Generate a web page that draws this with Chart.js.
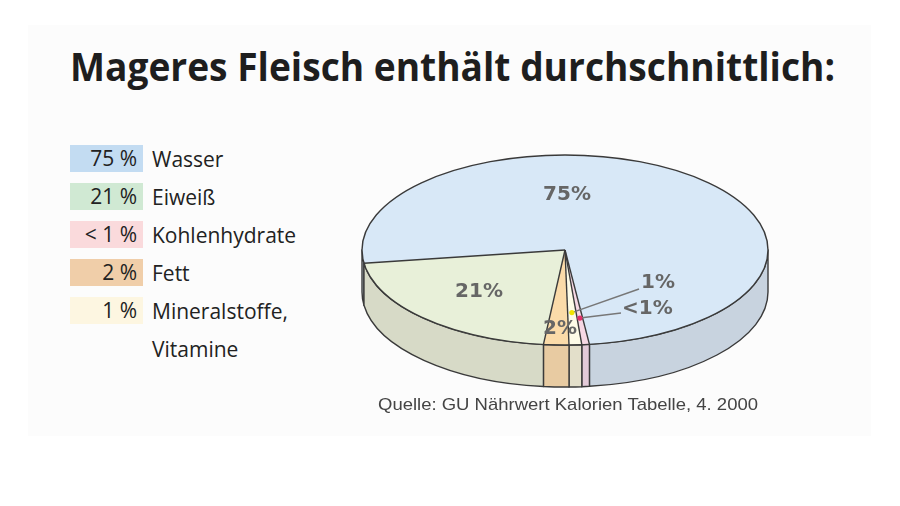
<!DOCTYPE html>
<html><head><meta charset="utf-8">
<script src="https://cdn.jsdelivr.net/npm/chart.js@4.4.1/dist/chart.umd.min.js"></script>
<style>
html,body{margin:0;padding:0;background:#fff;width:900px;height:506px;overflow:hidden;}
#wrap{position:relative;width:900px;height:506px;}
#panel{position:absolute;left:28px;top:25px;width:843px;height:411px;background:#fcfcfc;}
#title{position:absolute;left:70px;top:38px;font:700 40px "Open Sans",sans-serif;color:#1e1e1e;white-space:nowrap;transform-origin:0 0;}
.box{position:absolute;left:70px;width:73px;height:27px;box-sizing:border-box;padding-right:6px;text-align:right;font:21px "Open Sans",sans-serif;line-height:27px;color:#222;white-space:nowrap}
.lab{position:absolute;left:152px;font:21px "Open Sans",sans-serif;line-height:38px;color:#222;white-space:pre}
#src{position:absolute;left:378px;top:395px;font:17px "Liberation Sans",sans-serif;color:#444;white-space:nowrap;transform-origin:0 0;}
canvas{position:absolute;left:0;top:0}
</style></head><body>
<div id="wrap">
<div id="panel"></div>
<div id="title">Mageres Fleisch enthält durchschnittlich:</div>
<div id="legend"></div>
<canvas id="c" width="900" height="506"></canvas>
<div id="src">Quelle: GU Nährwert Kalorien Tabelle, 4. 2000</div>
</div>
<script>
// ---- data ----
const categories = ["Wasser", "Eiweiß", "Kohlenhydrate", "Fett", "Mineralstoffe,\nVitamine"];
const values = [75, 21, 0.6, 2, 1];
const valueLabels = ["75 %", "21 %", "< 1 %", "2 %", "1 %"];
const pieLabels = ["75%", "21%", "<1%", "2%", "1%"];
const pieOrder = [0, 2, 4, 3, 1]; // clockwise order in the pie

// ---- styles ----
const legendColors = ["#c3dcf2", "#d0e9d3", "#fadadc", "#f0cea9", "#fdf6e1"];
const topColors = ["#d8e8f7", "#e8f0d9", "#f7d8e4", "#fbdba9", "#fdfbe7"];
const sideColors = ["#c8d3df", "#d7dac7", "#e3cad8", "#e8cba2", "#e3dfca"];
const K = 0.468, DEPTH = 42;
const labelPos = { 0: [567, 195], 1: [479, 292], 3: [560, 329] };
const callouts = {
  4: { f: 0.66, dot: "#f0e400", text: [641, 283], end: [639, 289] },
  2: { f: 0.72, dot: "#e0306a", text: [622, 309], end: [621, 313] }
};

function fitWidth(el, w) {
  const cur = el.getBoundingClientRect().width;
  el.style.transform = 'scaleX(' + (w / cur) + ')';
}
fitWidth(document.getElementById('title'), 765);
fitWidth(document.getElementById('src'), 380);

// ---- legend ----
const leg = document.getElementById('legend');
categories.forEach((c, i) => {
  const top = 145 + 38 * i;
  const b = document.createElement('div');
  b.className = 'box'; b.style.top = top + 'px'; b.style.background = legendColors[i];
  b.textContent = valueLabels[i]; leg.appendChild(b);
  const l = document.createElement('div');
  l.className = 'lab'; l.style.top = (top - 5.5) + 'px'; l.textContent = c; leg.appendChild(l);
});

function frontPieces(s, e) {
  const out = [];
  for (let k = -2; k <= 3; k++) {
    const a = Math.max(s, 2 * Math.PI * k), b = Math.min(e, 2 * Math.PI * k + Math.PI);
    if (b > a + 1e-6) out.push([a, b]);
  }
  return out;
}

const pie3d = {
  id: 'pie3d',
  beforeDatasetsDraw(chart) {
    const ctx = chart.ctx, arcs = chart.getDatasetMeta(0).data;
    const cx = arcs[0].x, cy = arcs[0].y, r = arcs[0].outerRadius;
    ctx.save();
    ctx.lineWidth = 1.4; ctx.strokeStyle = '#3a3a3a'; ctx.lineJoin = 'round';
    arcs.forEach((a, j) => {
      const idx = pieOrder[j];
      frontPieces(a.startAngle, a.endAngle).forEach(([s, e]) => {
        ctx.beginPath();
        ctx.ellipse(cx, cy, r, r * K, 0, s, e, false);
        ctx.ellipse(cx, cy + DEPTH, r, r * K, 0, e, s, true);
        ctx.closePath();
        ctx.fillStyle = sideColors[idx];
        ctx.fill(); ctx.stroke();
      });
    });
    ctx.restore();
    ctx.save();
    ctx.translate(cx, cy); ctx.scale(1, K); ctx.translate(-cx, -cy);
  },
  afterDatasetsDraw(chart) {
    const ctx = chart.ctx;
    ctx.restore();
    const arcs = chart.getDatasetMeta(0).data;
    const cx = arcs[0].x, cy = arcs[0].y, r = arcs[0].outerRadius;
    ctx.save();
    ctx.lineWidth = 1.4; ctx.strokeStyle = '#3a3a3a'; ctx.lineJoin = 'round';
    arcs.forEach(a => {
      ctx.beginPath();
      ctx.moveTo(cx, cy);
      ctx.lineTo(cx + r * Math.cos(a.startAngle), cy + r * K * Math.sin(a.startAngle));
      ctx.stroke();
    });
    ctx.beginPath();
    ctx.ellipse(cx, cy, r, r * K, 0, 0, Math.PI * 2);
    ctx.stroke();
    // callouts
    arcs.forEach((a, j) => {
      const idx = pieOrder[j];
      const co = callouts[idx];
      if (!co) return;
      const m = (a.startAngle + a.endAngle) / 2;
      const dx = cx + r * co.f * Math.cos(m), dy = cy + r * co.f * K * Math.sin(m);
      ctx.beginPath(); ctx.strokeStyle = '#777'; ctx.lineWidth = 1.5;
      ctx.moveTo(dx, dy); ctx.lineTo(co.end[0], co.end[1]); ctx.stroke();
      ctx.beginPath(); ctx.fillStyle = co.dot; ctx.arc(dx, dy, 2.6, 0, Math.PI * 2); ctx.fill();
      ctx.font = 'bold 20px "DejaVu Sans"'; ctx.fillStyle = '#666';
      ctx.textAlign = 'left'; ctx.textBaseline = 'middle';
      ctx.fillText(pieLabels[idx], co.text[0], co.text[1]);
    });
    ctx.font = 'bold 20px "DejaVu Sans"'; ctx.fillStyle = '#666';
    ctx.textAlign = 'center'; ctx.textBaseline = 'middle';
    Object.keys(labelPos).forEach(k => {
      ctx.fillText(pieLabels[k], labelPos[k][0], labelPos[k][1]);
    });
    ctx.restore();
  }
};

new Chart(document.getElementById('c'), {
  type: 'pie',
  data: {
    labels: pieOrder.map(i => categories[i]),
    datasets: [{
      data: pieOrder.map(i => values[i]),
      backgroundColor: pieOrder.map(i => topColors[i]),
      borderWidth: 0
    }]
  },
  options: {
    responsive: false, animation: false, events: [],
    rotation: 262,
    layout: { padding: { left: 362, right: 132, top: 47, bottom: 53 } },
    plugins: { legend: { display: false }, tooltip: { enabled: false } }
  },
  plugins: [pie3d]
});
</script>
</body></html>
